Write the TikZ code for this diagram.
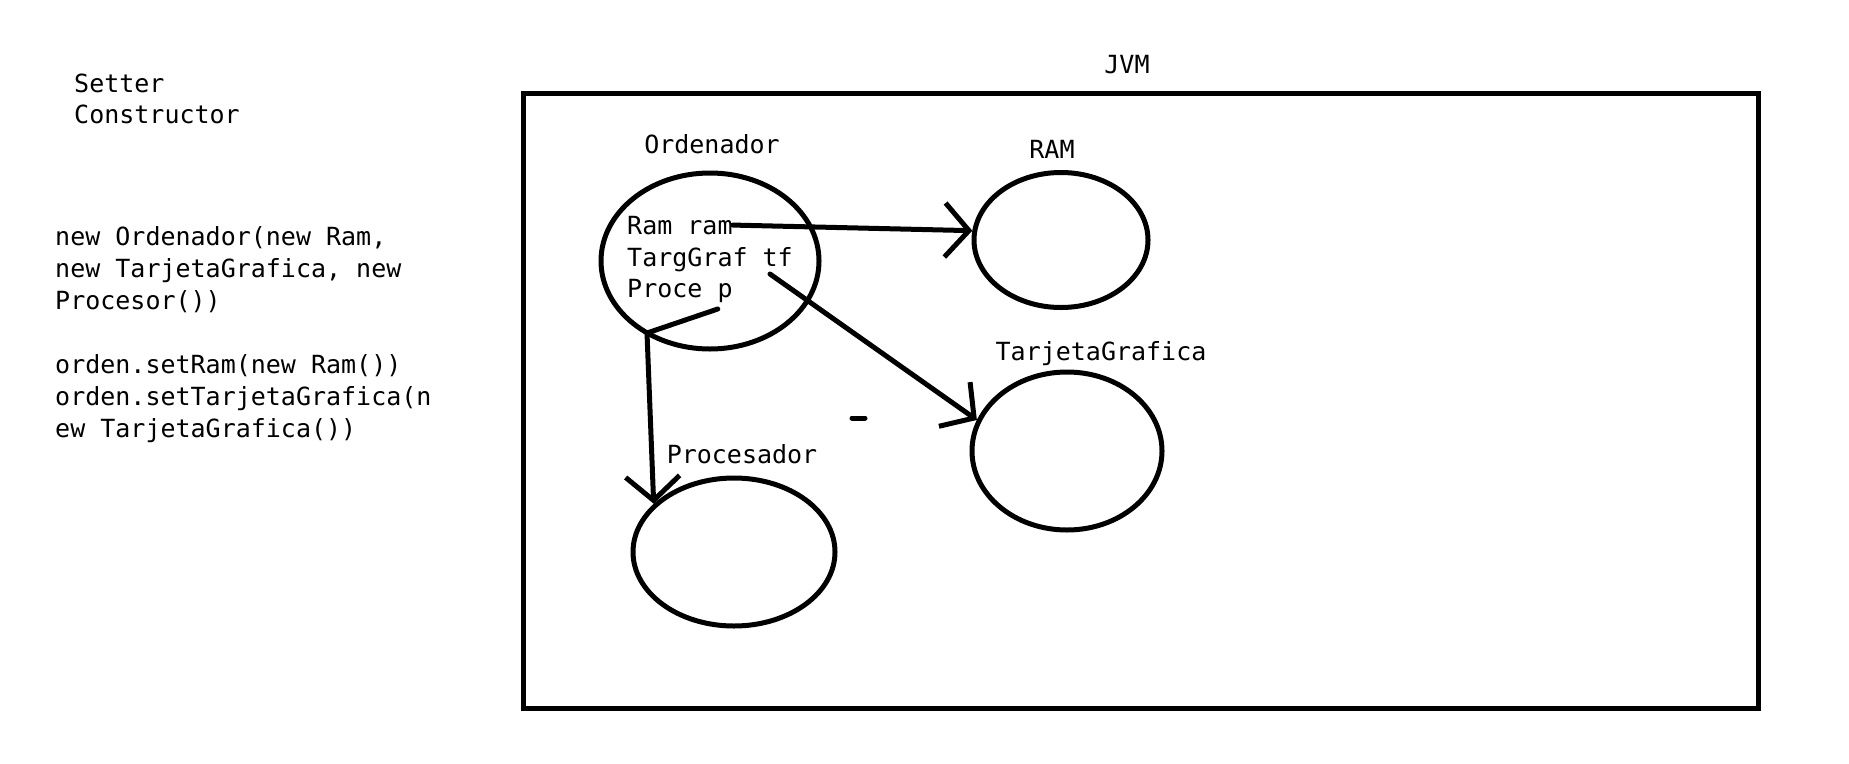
\documentclass[tikz,border=0pt]{standalone}
\usepackage{fontspec}
\setmonofont{DejaVu Sans Mono}
\usetikzlibrary{arrows.meta, shapes.geometric, calc}

\begin{document}
\begin{tikzpicture}[x=1pt, y=-1pt,
txt/.style={font=\ttfamily\fontsize{25}{32}\selectfont, inner sep=0, anchor=base west},
lbl/.style={font=\ttfamily\fontsize{25}{32}\selectfont, inner sep=0, anchor=base},
obj/.style={draw, ellipse, line width=5pt, inner sep=0},
pen/.style={line width=5pt, line cap=round, line join=round},
arrow/.style={pen, -{Straight Barb[length=24pt, width=54pt]}}
]
\useasboundingbox (0,0) rectangle (1849,763);

\node[txt] (setter) at (74,92) {Setter};
\node[txt] (constructor) at (74,123) {Constructor};

\node[txt] (code1) at (55,245) {new Ordenador(new Ram,};
\node[txt] (code2) at (55,277) {new TarjetaGrafica, new};
\node[txt] (code3) at (55,309) {Procesor())};
\node[txt] (code4) at (55,373) {orden.setRam(new Ram())};
\node[txt] (code5) at (55,405) {orden.setTarjetaGrafica(n};
\node[txt] (code6) at (55,437) {ew TarjetaGrafica())};

\node[draw, line width=5pt, minimum width=1235pt, minimum height=615pt, inner sep=0] (jvm) at (1141,401) {};
\node[lbl] (jvmlabel) at (1127,73) {JVM};

\node[obj, minimum width=218pt, minimum height=176pt] (ordenador) at (710,261) {};
\node[lbl] (ordlabel) at (712,153) {Ordenador};
\node[txt] (ramfield) at (627,234) {Ram ram};
\node[txt] (tffield) at (627,266) {TargGraf tf};
\node[txt] (procfield) at (627,297) {Proce p};

\node[obj, minimum width=174pt, minimum height=135pt] (ram) at (1061,240) {};
\node[lbl] (ramlabel) at (1052,158) {RAM};

\node[obj, minimum width=190pt, minimum height=158pt] (tg) at (1067,451) {};
\node[lbl] (tglabel) at (1101,360) {TarjetaGrafica};

\node[obj, minimum width=202pt, minimum height=148pt] (proc) at (734,552) {};
\node[lbl] (proclabel) at (742,463) {Procesador};

\coordinate (bend) at (647,333);

\draw[arrow] (ramfield.east) -- (ram.174);
\draw[arrow] ($(tffield.base east)+(-23,8)$) -- (tg.161);
\draw[arrow] ($(procfield.base east)+(-15,12)$) -- (bend) -- (proc.149);

\draw[pen] (852,418) -- (865,418);

\end{tikzpicture}
\end{document}
